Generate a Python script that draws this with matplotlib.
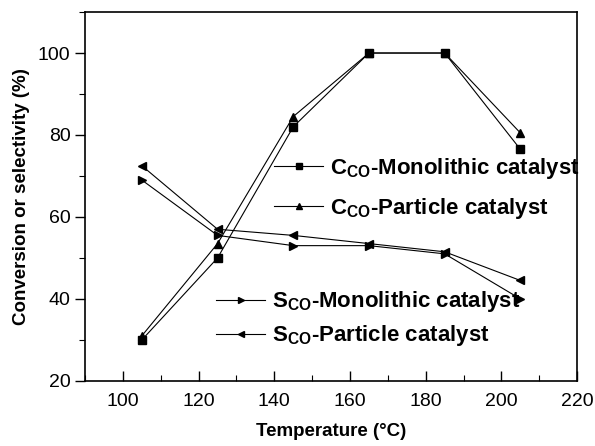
import matplotlib
matplotlib.use('Agg')
import matplotlib.pyplot as plt
from matplotlib.ticker import MultipleLocator

plt.rcParams['font.family'] = ['Liberation Sans', 'DejaVu Sans']
plt.rcParams['mathtext.fontset'] = 'custom'
plt.rcParams['mathtext.rm'] = 'Liberation Sans:bold'
plt.rcParams['mathtext.bf'] = 'Liberation Sans:bold'

# data
temp = [105, 125, 145, 165, 185, 205]
c_mono = [30, 50, 82, 100, 100, 76.5]
c_part = [31, 53.5, 84.5, 100, 100, 80.5]
s_mono = [69, 55.5, 53, 53, 51, 40]
s_part = [72.5, 57, 55.5, 53.5, 51.5, 44.5]

fig = plt.figure(figsize=(5.95, 4.46), dpi=100)
ax = fig.add_axes([0.143, 0.146, 0.827, 0.827])

kw = dict(color='black', lw=0.8, ms=6)
l1, = ax.plot(temp, c_mono, marker='s', label=r'$\mathrm{C_{CO}}$-Monolithic catalyst', **kw)
l2, = ax.plot(temp, c_part, marker='^', label=r'$\mathrm{C_{CO}}$-Particle catalyst', **kw)
l3, = ax.plot(temp, s_mono, marker='>', label=r'$\mathrm{S_{CO}}$-Monolithic catalyst', **kw)
l4, = ax.plot(temp, s_part, marker='<', label=r'$\mathrm{S_{CO}}$-Particle catalyst', **kw)

ax.set_xlim(90, 220)
ax.set_ylim(20, 110)
ax.xaxis.set_major_locator(MultipleLocator(20))
ax.xaxis.set_minor_locator(MultipleLocator(10))
ax.yaxis.set_minor_locator(MultipleLocator(10))
ax.set_yticks([20, 40, 60, 80, 100])
ax.tick_params(axis='x', which='both', direction='in', labelsize=14, pad=9)
ax.tick_params(axis='y', which='both', direction='out', labelsize=14)
ax.tick_params(which='major', length=7, width=1)
ax.tick_params(which='minor', length=4, width=0.8)
for s in ax.spines.values():
    s.set_linewidth(1.2)

ax.set_xlabel('Temperature (°C)', fontsize=13.5, fontweight='bold', labelpad=9)
ax.set_ylabel('Conversion or selectivity (%)', fontsize=13.5, fontweight='bold', labelpad=6)

leg1 = ax.legend(handles=[l1, l2], loc='upper left', bbox_to_anchor=(0.344, 0.665),
                 frameon=False, markerscale=0.7, handlelength=2.2,
                 handletextpad=0.3, labelspacing=0.7, prop={'weight': 'bold', 'size': 16})
ax.add_artist(leg1)
ax.legend(handles=[l3, l4], loc='upper left', bbox_to_anchor=(0.226, 0.302),
          frameon=False, markerscale=0.7, handlelength=2.2,
          handletextpad=0.3, labelspacing=0.4, prop={'weight': 'bold', 'size': 16})

fig.savefig('out.png', dpi=100)
